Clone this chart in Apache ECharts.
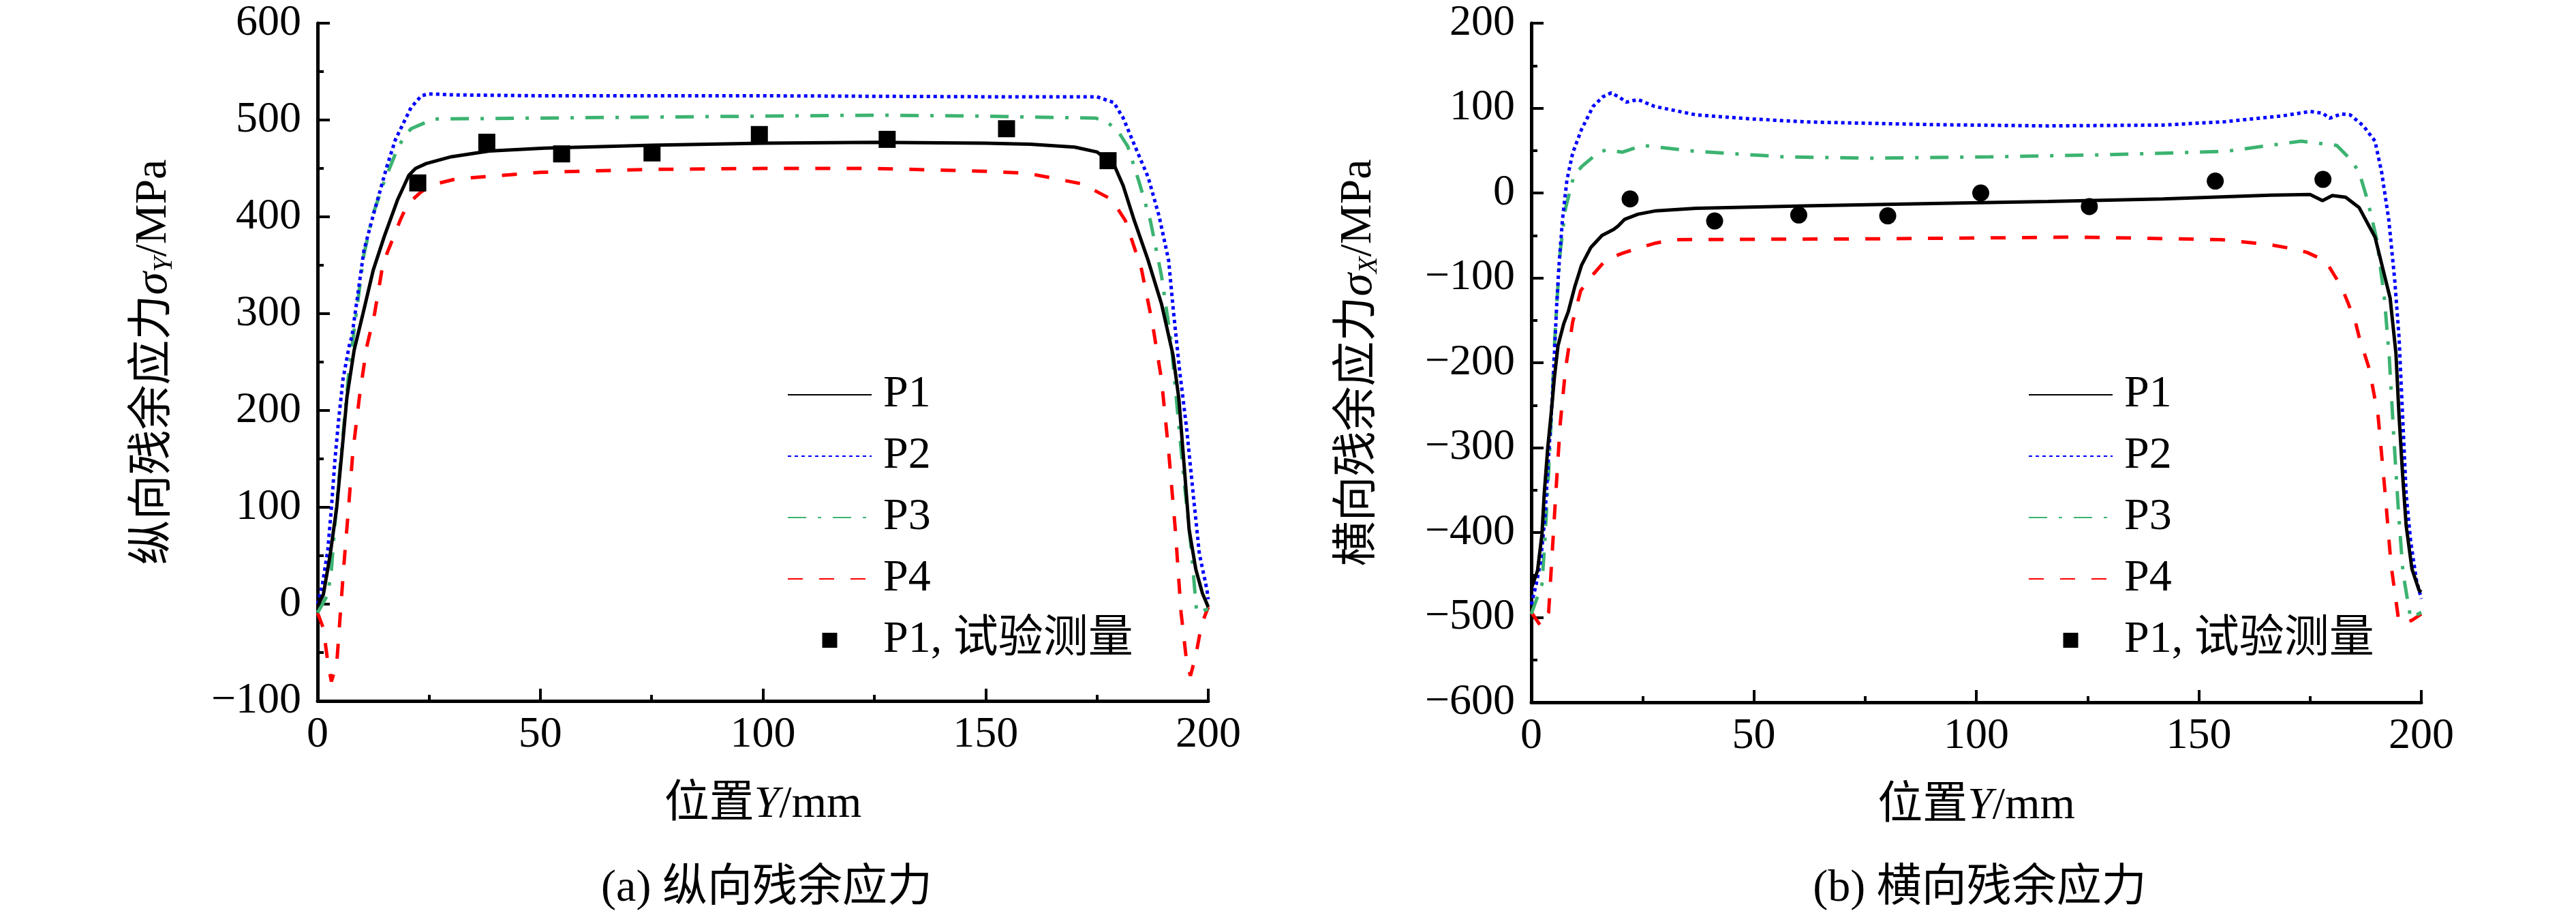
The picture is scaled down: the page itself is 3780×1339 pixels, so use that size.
<!DOCTYPE html>
<html>
<head>
<meta charset="utf-8">
<script src="https://cdn.jsdelivr.net/npm/echarts@6/dist/echarts.min.js"></script>
<style>
html, body { margin: 0; padding: 0; background: #fff; }
#main { width: 3780px; height: 1339px; }
</style>
</head>
<body>
<div id="main"></div>
<script>
// 图例名称
var seriesNames = ['P1', 'P2', 'P3', 'P4', 'P1, 试验测量']
var captions = ['(a) 纵向残余应力', '(b) 横向残余应力']

// (a) 纵向残余应力 [Y/mm, σY/MPa]
var sigY_P1 = [[0,-2],[1.3,10],[2.8,50],[4.3,100],[5.6,164],[6.6,214],[8.2,262],[10.3,302],[12.5,345],[15,380],[18,418],[20.5,443],[22,450],[24.4,455],[30,462],[38.5,468],[51,471],[75,474],[100,476],[125,477],[150,476],[160,475],[170,472],[175,467],[177.6,458],[179.1,451],[180.9,432],[183.4,396],[186.5,355],[189.5,310],[192.1,257],[193.4,212],[194.6,142],[195.7,77],[197.2,36],[198.7,11],[200,-3]]
var sigY_P2 = [[0,0],[1,18],[2.3,56],[3.1,99],[3.9,149],[4.7,189],[5.7,232],[7.2,269],[7.7,276],[10.4,365],[12.4,400],[15.5,451],[17.5,480],[21,513],[23.3,525],[25,527],[30,526],[50,525],[100,525],[150,524],[175,524],[178.8,518],[180.9,502],[183.9,469],[186.5,441],[189,400],[191.1,355],[192.1,306],[193.6,240],[195.2,179],[196.7,110],[198,52],[199.7,15],[200,5]]
var sigY_P3 = [[0,-9],[2.3,10],[3.1,35],[3.9,83],[4.9,134],[5.9,184],[6.9,234],[7.9,272],[10.4,361],[12.4,402],[15,437],[18,471],[19.5,483],[21,491],[26,501],[50,502],[100,504],[125,505],[150,504],[160,503],[174.7,502],[177.3,498],[179.8,488],[181.9,473],[184.4,437],[187,396],[189.5,339],[191.6,273],[193.1,199],[194.6,126],[196.2,56],[197.4,-9],[200,-5]]
var sigY_P4 = [[0,-9],[1.3,-25],[2.3,-60],[3.1,-80],[4.3,-62],[5,-17],[5.9,40],[6.9,96],[7.9,156],[9.4,214],[11,265],[12.8,300],[14.7,352],[18.6,397],[20.2,413],[23.3,426],[26.5,434],[31,439],[50,446],[75,449],[100,450],[125,450],[150,447],[159.4,445],[171.7,434],[178.3,418],[181.4,396],[185,346],[187.5,289],[189.5,232],[191.1,158],[192.6,77],[193.9,-9],[195.2,-62],[196,-74],[197.2,-53],[198.5,-21],[200,-3]]
var sigY_test = [[22.5,435],[38,477],[54.8,465],[75.1,466],[99.2,485],[127.9,480],[154.7,491],[177.5,458]]

// (b) 横向残余应力 [Y/mm, σX/MPa]
var sigX_P1 = [[0,-466],[1.4,-445],[2.4,-402],[2.9,-355],[3.7,-300],[4.5,-258],[5.2,-217],[6,-180],[7.3,-154],[8.3,-140],[9.8,-110],[11.3,-85],[13.4,-64],[15.9,-50],[18.5,-43],[19.5,-39],[21,-31],[24,-25],[28,-21],[37,-18],[63,-15],[90,-12.5],[116,-10],[142,-7],[166,-2.6],[175,-1.8],[177.8,-9],[180,-3],[183,-5],[186,-17],[189.6,-52],[193,-124],[194.3,-189],[195,-263],[195.8,-332],[196.6,-392],[197.9,-443],[199.5,-468],[200,-470]]
var sigX_P2 = [[0,-485],[1.1,-461],[2.1,-434],[3.1,-379],[3.9,-309],[4.7,-244],[5.2,-189],[5.7,-133],[6.2,-87],[7,-32],[8,15],[9.3,47],[11.3,75],[13.9,102],[16,113],[18,118],[20,112],[21.3,107],[24,110],[27.7,102],[37,92],[50,87],[63,83.5],[90,80.5],[116,79],[142,80],[156,84],[169,91],[175,96],[177.8,94],[179.4,88],[182,93],[184,92],[187,79],[189.6,61],[191.1,24],[192.7,-32],[194,-101],[195,-170],[195.8,-263],[196.6,-355],[197.6,-410],[198.9,-456],[200,-478]]
var sigX_P3 = [[0,-496],[2.4,-461],[3.1,-406],[3.9,-328],[4.7,-244],[5.2,-180],[5.7,-133],[6.5,-69],[7.7,-18],[9.5,19],[11.3,31],[14.9,47],[16.9,51],[20.5,48],[25,56],[37,49],[57,42.5],[77,41],[103,42.5],[129,45],[156,49],[173,61],[181,56],[184,40],[186,25],[188,-10],[190,-55],[191.7,-124],[192.8,-193],[193.8,-286],[194.9,-378],[195.9,-448],[197.6,-501],[200,-494]]
var sigX_P4 = [[0,-494],[2.1,-510],[3.9,-494],[4.7,-424],[5.5,-355],[6.5,-272],[7.7,-207],[9.3,-152],[11.1,-115],[13.9,-96],[16.9,-78],[20.5,-71],[24.6,-64],[28,-59],[32,-55],[77,-54],[123,-52],[155,-55],[166,-61],[171.4,-66],[174.3,-70],[178.5,-80],[180,-93],[182,-110],[183.5,-129],[185.2,-152],[186,-169],[188.3,-207],[190.3,-263],[191.9,-355],[193.2,-438],[194.9,-503],[196,-508],[198,-503],[200,-496]]
var sigX_test = [[22.2,-7],[41.2,-33],[60.1,-26],[80.1,-27],[101,0],[125.4,-16],[153.7,14],[177.9,16]]

var FONT = '"Liberation Serif", "Times New Roman", "Noto Sans CJK SC", serif'

var chart_ctl = {
    myChart: null,
    txt: function (extra) {
        var s = { fontSize: 64, fontFamily: FONT, color: '#000' }
        for (var k in extra) s[k] = extra[k]
        return s
    },
    xAxis: function (idx) {
        return {
            type: 'value', gridIndex: idx, min: 0, max: 200, interval: 50,
            name: '{n|位置}{i|Y}{n|/mm}',
            nameLocation: 'middle', nameGap: 120,
            nameTextStyle: { rich: { n: this.txt({ fontSize: 66 }), i: this.txt({ fontSize: 66, fontStyle: 'italic' }) } },
            axisLine: { onZero: false, lineStyle: { color: '#000', width: 5 } },
            axisTick: { inside: true, length: 18, lineStyle: { color: '#000', width: 4 } },
            minorTick: { show: true, splitNumber: 2, length: 9, lineStyle: { color: '#000', width: 4 } },
            axisLabel: this.txt({ margin: 18 }),
            splitLine: { show: false }
        }
    },
    yAxis: function (idx, min, max, title, sub, gap) {
        return {
            type: 'value', gridIndex: idx, min: min, max: max, interval: 100,
            name: '{n|' + title + '}{s|σ}{b|' + sub + '}{n|/MPa}',
            nameLocation: 'middle', nameGap: gap,
            nameTextStyle: { rich: {
                n: this.txt({ fontSize: 66 }),
                s: this.txt({ fontStyle: 'italic', fontSize: 68 }),
                b: this.txt({ fontStyle: 'italic', fontSize: 40, padding: [30, 0, 0, 0] })
            } },
            axisLine: { show: true, onZero: false, lineStyle: { color: '#000', width: 5 } },
            axisTick: { inside: true, length: 18, lineStyle: { color: '#000', width: 4 } },
            minorTick: { show: true, splitNumber: 2, length: 9, lineStyle: { color: '#000', width: 4 } },
            axisLabel: this.txt({ margin: 24, formatter: function (v) { return String(v).replace('-', '\u2212') } }),
            splitLine: { show: false }
        }
    },
    lines: function (idx, p1, p2, p3, p4, test, testSymbol) {
        var styles = [
            { color: '#000000', type: 'solid' },
            { color: '#0000ff', type: [5, 5] },
            { color: '#3cb371', type: [27, 17, 5, 17] },
            { color: '#ff0000', type: [22, 24] }
        ]
        var sets = [p1, p2, p3, p4]
        var out = []
        for (var i = 0; i < 4; i++) {
            out.push({
                name: seriesNames[i], type: 'line', xAxisIndex: idx, yAxisIndex: idx,
                data: sets[i], symbol: 'none', z: 5 - i,
                itemStyle: { color: styles[i].color },
                lineStyle: { color: styles[i].color, width: 5, type: styles[i].type }
            })
        }
        out.push({
            name: seriesNames[4], type: 'scatter', xAxisIndex: idx, yAxisIndex: idx,
            data: test, symbol: testSymbol, symbolSize: 25, z: 10,
            itemStyle: { color: '#000', opacity: 1 }
        })
        return out
    },
    legend: function (left) {
        var hide = { opacity: 0 }
        return {
            orient: 'vertical', left: left, top: 546, padding: 0,
            itemWidth: 123, itemHeight: 22, itemGap: 24, selectedMode: false,
            symbolKeepAspect: true,
            textStyle: this.txt({ fontSize: 66, padding: [0, 0, 0, 12] }),
            data: [
                { name: 'P1', itemStyle: hide }, { name: 'P2', itemStyle: hide },
                { name: 'P3', itemStyle: hide }, { name: 'P4', itemStyle: hide },
                { name: 'P1, 试验测量', icon: 'path://M0,0L10,0L10,10L0,10Z', itemStyle: { color: '#000', opacity: 1 } }
            ]
        }
    },
    init: function () {
        this.myChart = echarts.init(document.getElementById('main'), null, { renderer: 'canvas' })
        var option = {
            animation: false,
            backgroundColor: '#fff',
            title: [
                { text: captions[0], left: 1120, top: 1266, textAlign: 'center', textStyle: this.txt({ fontSize: 66, fontWeight: 'normal' }) },
                { text: captions[1], left: 2900, top: 1266, textAlign: 'center', textStyle: this.txt({ fontSize: 66, fontWeight: 'normal' }) }
            ],
            grid: [
                { left: 466, top: 34, width: 1307, height: 994 },
                { left: 2247, top: 34, width: 1306, height: 996 }
            ],
            legend: [this.legend(1155), this.legend(2976)],
            xAxis: [this.xAxis(0), this.xAxis(1)],
            yAxis: [
                this.yAxis(0, -100, 600, '纵向残余应力', 'Y', 205),
                this.yAxis(1, -600, 200, '横向残余应力', 'X', 218)
            ],
            series: this.lines(0, sigY_P1, sigY_P2, sigY_P3, sigY_P4, sigY_test, 'rect')
                .concat(this.lines(1, sigX_P1, sigX_P2, sigX_P3, sigX_P4, sigX_test, 'circle'))
        }
        this.myChart.setOption(option)
    }
}

chart_ctl.init()
</script>
</body>
</html>
